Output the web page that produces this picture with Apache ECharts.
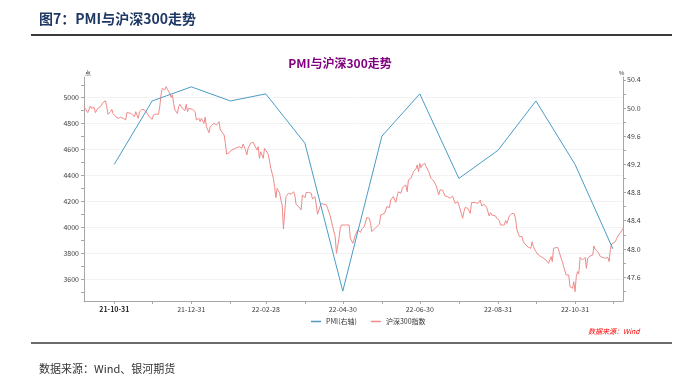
<!DOCTYPE html>
<html><head><meta charset="utf-8">
<script src="https://cdn.jsdelivr.net/npm/echarts@6/dist/echarts.min.js"></script>
<style>html,body{margin:0;padding:0;background:#fff}#c{width:680px;height:377px}</style>
</head><body><div id="c"></div>
<script>
// ---- data ----
const pmiDates = ['2021-10-31','2021-11-30','2021-12-31','2022-01-31','2022-02-28','2022-03-31','2022-04-30','2022-05-31','2022-06-30','2022-07-31','2022-08-31','2022-09-30','2022-10-31','2022-11-30'];
const pmiValues = [49.2,50.1,50.3,50.1,50.2,49.5,47.4,49.6,50.2,49.0,49.4,50.1,49.2,48.0];

const hsDates = [
'2021-10-07','2021-10-08','2021-10-10','2021-10-12','2021-10-13','2021-10-15','2021-10-16','2021-10-18','2021-10-20','2021-10-22','2021-10-24','2021-10-25','2021-10-26','2021-10-28','2021-10-29','2021-10-30',
'2021-11-01','2021-11-02','2021-11-03','2021-11-05','2021-11-07','2021-11-09','2021-11-10','2021-11-13','2021-11-14','2021-11-16','2021-11-17','2021-11-19','2021-11-20','2021-11-22','2021-11-24','2021-11-26','2021-11-27','2021-11-28','2021-11-30',
'2021-12-01','2021-12-03','2021-12-05','2021-12-06','2021-12-07','2021-12-08','2021-12-10','2021-12-11','2021-12-12','2021-12-14','2021-12-15','2021-12-16','2021-12-17','2021-12-18','2021-12-20','2021-12-21','2021-12-22','2021-12-24','2021-12-25','2021-12-26','2021-12-27','2021-12-28','2021-12-29',
'2022-01-01','2022-01-03','2022-01-04','2022-01-06','2022-01-07','2022-01-08','2022-01-10','2022-01-11','2022-01-12','2022-01-14','2022-01-15','2022-01-16','2022-01-18','2022-01-19','2022-01-20','2022-01-22','2022-01-23','2022-01-24','2022-01-26','2022-01-27','2022-01-28','2022-01-30',
'2022-02-01','2022-02-04','2022-02-07','2022-02-09','2022-02-10','2022-02-12','2022-02-13','2022-02-14','2022-02-16','2022-02-18','2022-02-19','2022-02-21','2022-02-22','2022-02-23','2022-02-24','2022-02-26','2022-02-27','2022-02-28',
'2022-03-02','2022-03-04','2022-03-06','2022-03-07','2022-03-08','2022-03-09','2022-03-11','2022-03-12','2022-03-13','2022-03-14','2022-03-15','2022-03-16','2022-03-18','2022-03-20','2022-03-22','2022-03-23','2022-03-24','2022-03-26','2022-03-27','2022-03-28','2022-03-29','2022-03-31',
'2022-04-01','2022-04-03','2022-04-05','2022-04-06','2022-04-08','2022-04-09','2022-04-10','2022-04-12','2022-04-13','2022-04-15','2022-04-17','2022-04-18','2022-04-20','2022-04-22','2022-04-23','2022-04-24','2022-04-25','2022-04-26','2022-04-27','2022-04-28','2022-04-29',
'2022-05-02','2022-05-03','2022-05-05','2022-05-06','2022-05-07','2022-05-08','2022-05-10','2022-05-11','2022-05-12','2022-05-14','2022-05-15','2022-05-16','2022-05-17','2022-05-19','2022-05-21','2022-05-22','2022-05-23','2022-05-25','2022-05-27','2022-05-29','2022-05-30','2022-05-31',
'2022-06-02','2022-06-03','2022-06-04','2022-06-06','2022-06-07','2022-06-08','2022-06-09','2022-06-11','2022-06-12','2022-06-13','2022-06-15','2022-06-16','2022-06-17','2022-06-19','2022-06-20','2022-06-21','2022-06-23','2022-06-24','2022-06-25','2022-06-27','2022-06-28','2022-06-29','2022-06-30',
'2022-07-01','2022-07-02','2022-07-04','2022-07-05','2022-07-07','2022-07-08','2022-07-09','2022-07-11','2022-07-13','2022-07-14','2022-07-15','2022-07-16','2022-07-18','2022-07-19','2022-07-20','2022-07-22','2022-07-24','2022-07-26','2022-07-27','2022-07-28','2022-07-30','2022-07-31',
'2022-08-01','2022-08-03','2022-08-04','2022-08-05','2022-08-07','2022-08-08','2022-08-09','2022-08-10','2022-08-13','2022-08-15','2022-08-17','2022-08-18','2022-08-20','2022-08-21','2022-08-22','2022-08-24','2022-08-25','2022-08-26','2022-08-29','2022-08-30',
'2022-09-01','2022-09-02','2022-09-03','2022-09-05','2022-09-06','2022-09-07','2022-09-09','2022-09-10','2022-09-11','2022-09-13','2022-09-14','2022-09-15','2022-09-17','2022-09-18','2022-09-19','2022-09-20','2022-09-22','2022-09-23','2022-09-24','2022-09-26','2022-09-27','2022-09-28','2022-09-30',
'2022-10-01','2022-10-02','2022-10-05','2022-10-08','2022-10-10','2022-10-11','2022-10-12','2022-10-13','2022-10-14','2022-10-15','2022-10-17','2022-10-18','2022-10-20','2022-10-21','2022-10-22','2022-10-24','2022-10-25','2022-10-26','2022-10-27','2022-10-29','2022-10-30','2022-10-31',
'2022-11-01','2022-11-02','2022-11-03','2022-11-04','2022-11-05','2022-11-06','2022-11-08','2022-11-09','2022-11-10','2022-11-12','2022-11-13','2022-11-14','2022-11-15','2022-11-16','2022-11-18','2022-11-19','2022-11-20','2022-11-22','2022-11-24','2022-11-26','2022-11-27','2022-11-28','2022-11-29','2022-11-30',
'2022-12-02','2022-12-03','2022-12-04','2022-12-06','2022-12-07','2022-12-08'];
const hsValues = [
4931,4936,4885,4936,4918,4926,4885,4918,4931,4962,4977,4931,4872,4892,4910,4879,
4854,4867,4841,4849,4841,4828,4885,4879,4885,4854,4892,4841,4892,4910,4905,4879,4867,4849,4833,
4867,4874,4872,4931,5021,5072,5060,5085,5072,5034,5003,5021,4957,4905,4879,4931,4949,4918,4926,4900,4949,4892,4918,
4910,4892,4828,4841,4815,4841,4802,4849,4776,4730,4776,4764,4802,4815,4789,4815,4751,4764,4712,4648,4565,4576,
4596,4609,4622,4609,4643,4596,4558,4609,4648,4656,4643,4596,4622,4532,4583,4532,4609,4622,
4563,4455,4377,4313,4228,4300,4262,4210,4172,3986,4115,4236,4262,4254,4274,4249,4177,4159,4151,4133,4249,4228,
4267,4269,4262,4218,4236,4172,4100,4159,4184,4177,4172,4146,4089,4004,4017,3927,3798,3785,3914,3991,4017,
4017,4012,4017,3914,3901,3875,3940,3953,3979,3960,3986,3971,4004,4074,4069,4030,3966,3986,4004,4022,4094,4089,
4107,4120,4159,4151,4210,4197,4236,4192,4236,4274,4262,4295,4313,4326,4274,4365,4377,4390,4429,4450,4481,4429,4493,
4460,4481,4493,4468,4429,4416,4377,4357,4321,4313,4249,4287,4287,4274,4241,4236,4223,4241,4236,4184,4197,4171,
4184,4069,4120,4153,4146,4153,4107,4190,4190,4184,4210,4164,4177,4184,4153,4087,4112,4094,4087,4069,
4051,4017,4009,4017,4051,4030,4087,4094,4107,4102,4056,3978,3927,3932,3927,3888,3863,3850,3845,3837,3888,3850,3811,
3798,3785,3767,3747,3721,3726,3773,3734,3837,3845,3845,3824,3760,3734,3695,3631,3644,3631,3541,3528,3579,3502,
3618,3657,3639,3767,3778,3747,3767,3682,3760,3778,3778,3785,3855,3829,3811,3793,3773,3767,3760,3767,3734,3829,3870,3863,
3888,3914,3932,3958,3953,3991];

const leftLabels = [3600,3800,4000,4200,4400,4600,4800,5000];
const leftTicks = [3500,3600,3700,3800,3900,4000,4100,4200,4300,4400,4500,4600,4700,4800,4900,5000,5100];
const rightLabels = [47.6,48.0,48.4,48.8,49.2,49.6,50.0,50.4];
const rightTicks = [47.4,47.6,47.8,48.0,48.2,48.4,48.6,48.8,49.0,49.2,49.4,49.6,49.8,50.0,50.2,50.4];
const xLabels = ['2021-10-31','2021-12-31','2022-02-28','2022-04-30','2022-06-30','2022-08-31','2022-10-31'];
const xTicks = ['2021-10-31','2021-11-30','2021-12-31','2022-01-31','2022-02-28','2022-03-31','2022-04-30','2022-05-31','2022-06-30','2022-07-31','2022-08-31','2022-09-30','2022-10-31','2022-11-30'];

// ---- helpers ----
function ts(s){const p=s.split('-').map(Number);return new Date(p[0],p[1]-1,p[2]).getTime();}
function pad(n){return (n<10?'0':'')+n;}
function fmt(v){const d=new Date(v);return String(d.getFullYear()).slice(2)+'-'+pad(d.getMonth()+1)+'-'+pad(d.getDate());}

const chart = echarts.init(document.getElementById('c'), null, {renderer:'canvas'});
const axisColor = '#a6a6a6';
const labelColor = '#404040';
const firstLabel = ts(xLabels[0]);

chart.setOption({
  animation:false,
  backgroundColor:'#fff',
  textStyle:{fontFamily:'"Noto Sans CJK SC", "Noto Sans", sans-serif'},
  title:[
    {text:'图7：PMI与沪深300走势',left:34,top:7,textStyle:{fontSize:14,fontWeight:'bold',color:'#1f3864',fontFamily:'"Noto Sans CJK SC"'}},
    {text:'PMI与沪深300走势',left:'center',top:52,textStyle:{fontSize:12,fontWeight:'bold',color:'#800080',fontFamily:'"Noto Sans CJK SC"'}},
    {text:'数据来源：Wind、银河期货',left:34,top:358,textStyle:{fontSize:11,fontWeight:'normal',color:'#333',fontFamily:'"Noto Sans CJK SC"'}},
    {text:'数据来源：Wind',left:583,top:323,textStyle:{fontSize:7,fontWeight:'normal',fontStyle:'italic',color:'#ff0000',fontFamily:'"Noto Sans CJK SC"'}}
  ],
  graphic:[
    {type:'line',shape:{x1:31,y1:35,x2:672,y2:35},style:{stroke:'#3a3a3a',lineWidth:2}},
    {type:'line',shape:{x1:31,y1:343,x2:672,y2:343},style:{stroke:'#3a3a3a',lineWidth:1.5}},
    {type:'text',left:85,top:70,style:{text:'点',fontSize:6,fill:'#404040'}},
    {type:'text',left:619,top:70,style:{text:'%',fontSize:6,fill:'#404040'}}
  ],
  legend:{
    left:306,top:313,itemWidth:10,itemHeight:1.5,icon:'rect',itemGap:14,
    textStyle:{fontSize:7,color:'#333',fontFamily:'"Noto Sans CJK SC"'},
    data:['PMI(右轴)','沪深300指数']
  },
  grid:{left:84,right:57,top:77,bottom:76},
  xAxis:{
    type:'value',min:ts('2021-10-07'),max:ts('2022-12-08'),
    axisLine:{show:true,lineStyle:{color:axisColor,width:1}},
    axisTick:{show:true,length:3,customValues:xTicks.map(ts),lineStyle:{color:axisColor}},
    axisLabel:{customValues:xLabels.map(ts),fontSize:7,color:labelColor,margin:5,
      formatter:function(v){return v===firstLabel?'{b|'+fmt(v)+'}':fmt(v);},
      rich:{b:{fontWeight:'bold',fontSize:7,color:'#222'}}},
    splitLine:{show:false}
  },
  yAxis:[
    {type:'value',position:'left',min:3430,max:5160,
     axisLine:{show:true,lineStyle:{color:axisColor}},
     axisTick:{show:true,length:3,customValues:leftTicks,lineStyle:{color:axisColor}},
     axisLabel:{customValues:leftLabels,fontSize:7,color:labelColor,margin:5,formatter:function(v){return String(v);}},
     splitLine:{show:false}},
    {type:'value',position:'right',min:47.26,max:50.44,
     axisLine:{show:true,lineStyle:{color:axisColor}},
     axisTick:{show:true,length:3,customValues:rightTicks,lineStyle:{color:axisColor}},
     axisLabel:{customValues:rightLabels,fontSize:7,color:labelColor,margin:4,formatter:function(v){return v.toFixed(1);}},
     splitLine:{show:false}},
    {type:'value',position:'left',min:3430,max:5160,
     axisLine:{show:false},axisTick:{show:false,customValues:leftLabels},axisLabel:{show:false},
     splitLine:{show:true,lineStyle:{color:'#f2f2f2',width:1}}}
  ],
  series:[
    {name:'PMI(右轴)',type:'line',yAxisIndex:1,symbol:'none',
     data:pmiDates.map((d,i)=>[ts(d),pmiValues[i]]),
     lineStyle:{color:'#4a9cc7',width:1},itemStyle:{color:'#4a9cc7'},z:3},
    {name:'沪深300指数',type:'line',yAxisIndex:0,symbol:'none',
     data:hsDates.map((d,i)=>[ts(d),hsValues[i]]),
     lineStyle:{color:'#f08a8a',width:1},itemStyle:{color:'#f08a8a'},z:2}
  ]
});
</script></body></html>
